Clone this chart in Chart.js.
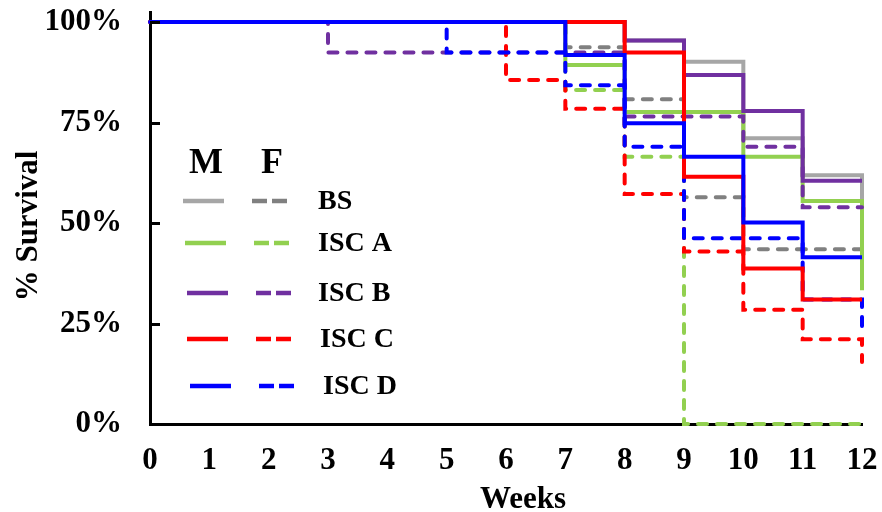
<!DOCTYPE html>
<html>
<head>
<meta charset="utf-8">
<script src="https://cdn.jsdelivr.net/npm/chart.js@4.4.1/dist/chart.umd.min.js"></script>
<style>
  html, body { margin: 0; padding: 0; background: #fff; }
</style>
</head>
<body>
<canvas id="survivalChart" width="882" height="512"></canvas>
<script>
// weeks on the x axis, survival in % (value holds from that week to the next)
const weeks = [0, 1, 2, 3, 4, 5, 6, 7, 8, 9, 10, 11, 12];
const yTicks = [0, 25, 50, 75, 100];
const groups = ["BS", "ISC A", "ISC B", "ISC C", "ISC D"];
const sexes = ["M", "F"];
const xTitle = "Weeks";
const yTitle = "% Survival";

const bsMale     = [100, 100, 100, 100, 100, 100, 100, 100, 95.4, 90.1, 71.1, 61.9, 55.5];
const bsFemale   = [100, 100, 100, 100, 100, 100, 100, 93.7, 80.8, 56.4, 43.5, 43.5, 43.5];
const iscAMale   = [100, 100, 100, 100, 100, 100, 100, 89.3, 77.6, 77.6, 66.5, 55.5, 33.3];
const iscAFemale = [100, 100, 100, 100, 100, 100, 100, 83.1, 66.5, 0, 0, 0, 0];
const iscBMale   = [100, 100, 100, 100, 100, 100, 100, 100, 95.4, 86.8, 77.9, 60.5, 60.5];
const iscBFemale = [100, 100, 100, 92.4, 92.4, 92.4, 92.4, 92.4, 76.5, 76.5, 69.0, 53.9, 53.9];
const iscCMale   = [100, 100, 100, 100, 100, 100, 100, 100, 92.4, 61.5, 38.7, 31.0, 31.0];
const iscCFemale = [100, 100, 100, 100, 100, 100, 85.6, 78.4, 57.2, 42.9, 28.4, 21.1, 15.4];
const iscDMale   = [100, 100, 100, 100, 100, 100, 100, 91.8, 74.8, 66.5, 50.1, 41.5, 41.5];
const iscDFemale = [100, 100, 100, 100, 100, 92.4, 92.4, 84.3, 69.0, 46.2, 46.2, 31.0, 23.0];

const FONT = '"Liberation Serif", "Times New Roman", serif';

const seriesByGroup = [
  { male: bsMale, female: bsFemale, colorM: "#a6a6a6", colorF: "#808080" },
  { male: iscAMale, female: iscAFemale, colorM: "#92d050", colorF: "#92d050" },
  { male: iscBMale, female: iscBFemale, colorM: "#7030a0", colorF: "#7030a0" },
  { male: iscCMale, female: iscCFemale, colorM: "#ff0000", colorF: "#ff0000" },
  { male: iscDMale, female: iscDFemale, colorM: "#0000ff", colorF: "#0000ff" },
];

function toPoints(values) {
  return weeks.map((w, i) => ({ x: w, y: values[i] }));
}

function makeSet(g, female) {
  const s = seriesByGroup[g];
  const set = {
    label: groups[g] + " " + (female ? sexes[1] : sexes[0]),
    data: toPoints(female ? s.female : s.male),
    borderColor: female ? s.colorF : s.colorM,
    borderWidth: 4,
    stepped: "before",
    pointRadius: 0,
    fill: false,
    clip: false,
  };
  if (female) {
    set.borderDash = [9, 10];
    set.borderCapStyle = "round";
  }
  return set;
}

// dataset 0 is drawn last (on top)
const datasets = [
  makeSet(4, false),
  makeSet(3, false),
  makeSet(4, true),
  makeSet(3, true),
  makeSet(2, false),
  makeSet(2, true),
  makeSet(1, false),
  makeSet(1, true),
  makeSet(0, false),
  makeSet(0, true),
];

const innerTicks = {
  id: "innerTicks",
  afterDatasetsDraw(chart) {
    const ctx = chart.ctx;
    const y = chart.scales.y;
    const left = chart.chartArea.left;
    ctx.save();
    ctx.strokeStyle = "#000";
    ctx.lineWidth = 3;
    yTicks.forEach((v) => {
      if (v === 0) return;
      const py = Math.round(y.getPixelForValue(v)) + 0.5;
      ctx.beginPath();
      ctx.moveTo(left, py);
      ctx.lineTo(left + 10, py);
      ctx.stroke();
    });
    ctx.restore();
  },
};

const axisTitles = {
  id: "axisTitles",
  afterDraw(chart) {
    const ctx = chart.ctx;
    ctx.save();
    ctx.fillStyle = "#000";
    ctx.font = "bold 31px " + FONT;
    ctx.textAlign = "center";
    ctx.textBaseline = "alphabetic";
    ctx.fillText(xTitle, 523, 508);
    ctx.translate(37, 226);
    ctx.rotate(-Math.PI / 2);
    ctx.fillText(yTitle, 0, 0);
    ctx.restore();
  },
};

const sexLegend = {
  id: "sexLegend",
  afterDatasetsDraw(chart) {
    const ctx = chart.ctx;
    ctx.save();
    ctx.fillStyle = "#000";
    ctx.textBaseline = "middle";
    ctx.textAlign = "center";
    ctx.font = "bold 36px " + FONT;
    ctx.fillText(sexes[0], 206, 164);
    ctx.fillText(sexes[1], 272, 164);

    const rows = [201, 243, 293, 339, 386];
    const shift = [0, 2, 4, 4, 7];
    ctx.textAlign = "left";
    ctx.font = "bold 28px " + FONT;
    groups.forEach((name, g) => {
      const s = seriesByGroup[g];
      const y = rows[g];
      const dx = shift[g];
      ctx.lineWidth = 4.5;
      ctx.lineCap = "butt";
      ctx.strokeStyle = s.colorM;
      ctx.beginPath();
      ctx.moveTo(183 + dx, y);
      ctx.lineTo(224 + dx, y);
      ctx.stroke();
      ctx.strokeStyle = s.colorF;
      ctx.beginPath();
      ctx.moveTo(252 + dx, y);
      ctx.lineTo(267 + dx, y);
      ctx.moveTo(272 + dx, y);
      ctx.lineTo(287 + dx, y);
      ctx.stroke();
      ctx.fillText(name, 318 + (g >= 3 ? dx - 2 : 0), y + 1);
    });
    ctx.restore();
  },
};

const ctx = document.getElementById("survivalChart").getContext("2d");
new Chart(ctx, {
  type: "line",
  data: { datasets: datasets },
  plugins: [innerTicks, sexLegend, axisTitles],
  options: {
    responsive: false,
    animation: false,
    layout: { padding: { top: 12, right: 20, bottom: 0, left: 0 } },
    plugins: {
      legend: { display: false },
      tooltip: { enabled: false },
    },
    scales: {
      x: {
        type: "linear",
        min: 0,
        max: 12,
        afterBuildTicks: (scale) => {
          scale.ticks = weeks.map((w) => ({ value: w }));
        },
        afterFit: (scale) => {
          scale.height = 88;
          scale.paddingLeft = 0;
          scale.paddingRight = 0;
        },
        grid: { display: false, drawTicks: false },
        border: { display: true, color: "#000", width: 3 },
        ticks: {
          color: "#000",
          padding: 18,
          maxRotation: 0,
          autoSkip: false,
          font: { family: FONT, size: 31, weight: "bold" },
        },
      },
      y: {
        min: 0,
        max: 102.5,
        afterBuildTicks: (scale) => {
          scale.ticks = yTicks.map((v) => ({ value: v }));
        },
        afterFit: (scale) => {
          scale.width = 150;
          scale.paddingTop = 0;
          scale.paddingBottom = 0;
        },
        grid: { display: false, drawTicks: false },
        border: { display: true, color: "#000", width: 3 },
        ticks: {
          color: "#000",
          padding: 28,
          callback: (v) => v + "%",
          font: { family: FONT, size: 31, weight: "bold" },
        },
      },
    },
  },
});
</script>
</body>
</html>
